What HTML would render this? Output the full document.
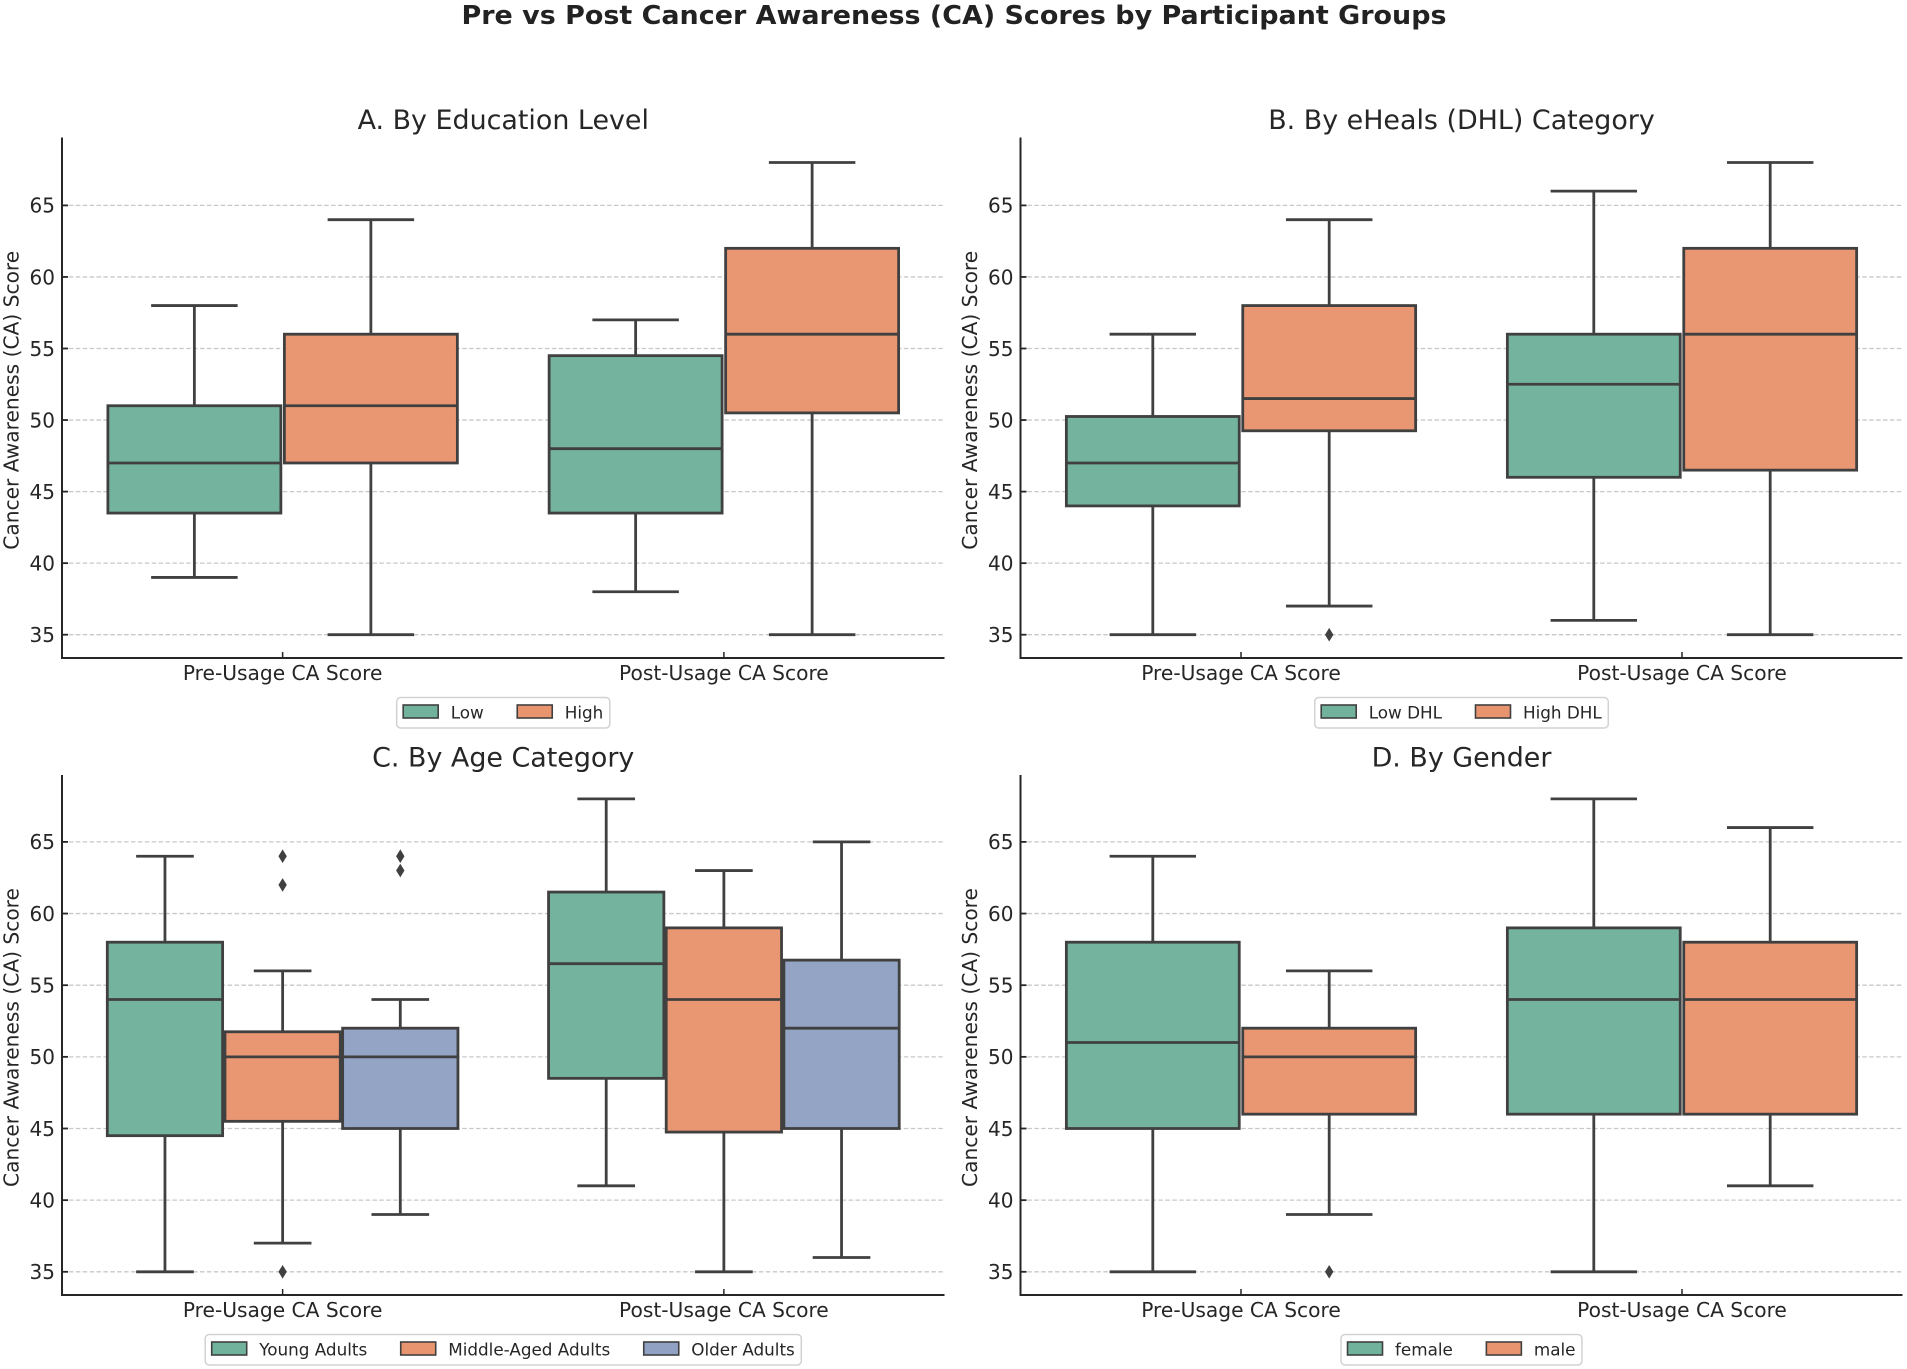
<!DOCTYPE html>
<html lang="en">
<head>
<meta charset="utf-8">
<title>Pre vs Post Cancer Awareness (CA) Scores by Participant Groups</title>
<style>
html,body{margin:0;padding:0;background:#fff;}
#chart-root{display:block;width:1907px;height:1369px;font-family:"DejaVu Sans","Liberation Sans",sans-serif;filter:blur(0.35px);}
</style>
</head>
<body>
<svg id="chart-root" xmlns="http://www.w3.org/2000/svg" width="1907" height="1369" viewBox="0 0 1907 1369">
  <rect x="0" y="0" width="1907" height="1369" fill="#ffffff"/>
  <text x="954" y="24" text-anchor="middle" font-size="26" font-weight="700" fill="#222222" textLength="985" lengthAdjust="spacingAndGlyphs">Pre vs Post Cancer Awareness (CA) Scores by Participant Groups</text>
</svg>
<script>
// Shared axis data
const categories = ['Pre-Usage CA Score', 'Post-Usage CA Score'];
const yTickLabels = [35, 40, 45, 50, 55, 60, 65];
const yAxisTitle = 'Cancer Awareness (CA) Score';

// Each box row: [whisker low, Q1, median, Q3, whisker high]
const panelATitle = 'A. By Education Level';
const panelASeries = ['Low', 'High'];
const panelAPre = [[39, 43.5, 47, 51, 58], [35, 47, 51, 56, 64]];
const panelAPost = [[38, 43.5, 48, 54.5, 57], [35, 50.5, 56, 62, 68]];
const panelAPreFliers = [[], []];
const panelAPostFliers = [[], []];

const panelBTitle = 'B. By eHeals (DHL) Category';
const panelBSeries = ['Low DHL', 'High DHL'];
const panelBPre = [[35, 44, 47, 50.25, 56], [37, 49.25, 51.5, 58, 64]];
const panelBPost = [[36, 46, 52.5, 56, 66], [35, 46.5, 56, 62, 68]];
const panelBPreFliers = [[], [35]];
const panelBPostFliers = [[], []];

const panelCTitle = 'C. By Age Category';
const panelCSeries = ['Young Adults', 'Middle-Aged Adults', 'Older Adults'];
const panelCPre = [[35, 44.5, 54, 58, 64], [37, 45.5, 50, 51.75, 56], [39, 45, 50, 52, 54]];
const panelCPost = [[41, 48.5, 56.5, 61.5, 68], [35, 44.75, 54, 59, 63], [36, 45, 52, 56.75, 65]];
const panelCPreFliers = [[], [35, 62, 64], [63, 64]];
const panelCPostFliers = [[], [], []];

const panelDTitle = 'D. By Gender';
const panelDSeries = ['female', 'male'];
const panelDPre = [[35, 45, 51, 58, 64], [39, 46, 50, 52, 56]];
const panelDPost = [[35, 46, 54, 59, 68], [41, 46, 54, 58, 66]];
const panelDPreFliers = [[], [35]];
const panelDPostFliers = [[], []];

// Drawing configuration
const seriesColors = ['#70b29c', '#e8946e', '#90a1c3'];
const STROKE = '#404040';
const SVG_NS = 'http://www.w3.org/2000/svg';
const root = document.getElementById('chart-root');

function make(tag, attrs, parent, text) {
  const el = document.createElementNS(SVG_NS, tag);
  for (const k in attrs) el.setAttribute(k, attrs[k]);
  if (text !== undefined) el.textContent = text;
  parent.appendChild(el);
  return el;
}
function slug(s) {
  return String(s).toLowerCase().replace(/[^a-z0-9]+/g, '-').replace(/^-|-$/g, '');
}

function drawPanel(id, frame, title, series, pre, post, preFliers, postFliers) {
  const L = frame.left, R = frame.right, T = frame.top, B = frame.bottom;
  // y axis function: value domain anchored on ticks 35 and 65
  const yScale = v => frame.y35 + (v - 35) * (frame.y65 - frame.y35) / 30;
  // x axis function: categorical domain -0.5..1.5
  const xScale = c => L + (c + 0.5) * (R - L) / 2;

  const g = make('g', {}, root);
  
  

  const titleEl = make('text', {x: (L + R) / 2, y: T - 8.5, 'text-anchor': 'middle', 'font-size': 26.9, fill: '#262626'}, g, title);
  
  

  // Horizontal grid
  yTickLabels.forEach(t => {
    const y = yScale(t);
    const grid = make('line', {x1: L, x2: R, y1: y, y2: y, stroke: '#c8c8c8', 'stroke-width': 1.3, 'stroke-dasharray': '4.5 2.4'}, g);
    
    
  });

  // Boxes
  const total = 0.8;
  const n = series.length;
  const slot = total / n;
  const rows = [pre, post];
  const fliers = [preFliers, postFliers];
  rows.forEach((row, c) => {
    row.forEach((stats, s) => {
      const center = c - total / 2 + slot * (s + 0.5);
      const cx = xScale(center);
      const halfW = (xScale(slot * 0.98) - xScale(0)) / 2;
      const capW = halfW / 2;
      const low = stats[0], q1 = stats[1], med = stats[2], q3 = stats[3], high = stats[4];
      const box = make('g', {}, g);
      
      
      const lw = 2.8;
      const lineAttrs = {stroke: STROKE, 'stroke-width': lw};
      make('line', Object.assign({x1: cx, x2: cx, y1: yScale(low), y2: yScale(q1)}, lineAttrs), box);
      make('line', Object.assign({x1: cx, x2: cx, y1: yScale(q3), y2: yScale(high)}, lineAttrs), box);
      make('line', Object.assign({x1: cx - capW, x2: cx + capW, y1: yScale(low), y2: yScale(low)}, lineAttrs), box);
      make('line', Object.assign({x1: cx - capW, x2: cx + capW, y1: yScale(high), y2: yScale(high)}, lineAttrs), box);
      make('rect', {x: cx - halfW, y: yScale(q3), width: halfW * 2, height: yScale(q1) - yScale(q3), fill: seriesColors[s], 'fill-opacity': 0.97, stroke: STROKE, 'stroke-width': lw}, box);
      make('line', Object.assign({x1: cx - halfW, x2: cx + halfW, y1: yScale(med), y2: yScale(med)}, lineAttrs), box);
      fliers[c][s].forEach(v => {
        const py = yScale(v);
        make('polygon', {points: [cx, py - 6.8, cx + 4.2, py, cx, py + 6.8, cx - 4.2, py].join(' '), fill: STROKE}, box);
      });
    });
  });

  // Spines
  const leftSpine = make('line', {x1: L, x2: L, y1: T, y2: B + 1, stroke: '#262626', 'stroke-width': 2}, g);
  
  
  const bottomSpine = make('line', {x1: L - 1, x2: R, y1: B, y2: B, stroke: '#262626', 'stroke-width': 2}, g);
  
  

  // Y ticks
  yTickLabels.forEach(t => {
    const y = yScale(t);
    const tick = make('line', {x1: L, x2: L + 6, y1: y, y2: y, stroke: '#262626', 'stroke-width': 1.8}, g);
    
    
    const lab = make('text', {x: L - 7, y: y + 7.3, 'text-anchor': 'end', 'font-size': 20, fill: '#262626'}, g, String(t));
    
    
  });

  // X ticks
  categories.forEach((name, c) => {
    const x = xScale(c);
    const tick = make('line', {x1: x, x2: x, y1: B, y2: B - 6, stroke: '#262626', 'stroke-width': 1.5}, g);
    
    
    const lab = make('text', {x: x, y: B + 22, 'text-anchor': 'middle', 'font-size': 20.2, fill: '#262626'}, g, name);
    
    
  });

  // Y axis title
  const yx = L - 43.5;
  const ycy = (T + B) / 2 + 2.5;
  const yTitle = make('text', {x: yx, y: ycy, 'text-anchor': 'middle', 'font-size': 20.2, fill: '#262626', transform: 'rotate(-90 ' + yx + ' ' + ycy + ')'}, g, yAxisTitle);
  
  

  // Legend
  const legend = make('g', {}, g);
  
  
  const legendTop = B + 39.5, legendH = 30.5;
  const frameEl = make('rect', {y: legendTop, height: legendH, rx: 4, ry: 4, fill: '#ffffff', stroke: '#d2d2d2', 'stroke-width': 1.5}, legend);
  
  
  const PAD = 6.5, HANDLE = 35, GAP = 12.5, COL = 33.5;
  const items = series.map((name, s) => {
    const swatch = make('rect', {y: legendTop + 7.5, width: HANDLE, height: 13, fill: seriesColors[s], stroke: STROKE, 'stroke-width': 1.6}, legend);
    
    
    const label = make('text', {y: legendTop + 21, 'font-size': 16.8, fill: '#262626'}, legend, name);
    
    
    return {swatch: swatch, label: label, w: label.getComputedTextLength()};
  });
  let width = PAD * 2;
  items.forEach((it, i) => { width += HANDLE + GAP + it.w + (i < items.length - 1 ? COL : 0); });
  const lx = (L + R) / 2 - width / 2;
  frameEl.setAttribute('x', lx);
  frameEl.setAttribute('width', width);
  let cursor = lx + PAD;
  items.forEach(it => {
    it.swatch.setAttribute('x', cursor);
    it.label.setAttribute('x', cursor + HANDLE + GAP);
    cursor += HANDLE + GAP + it.w + COL;
  });
}

const topFrame = {top: 137.5, bottom: 658, y35: 634.7, y65: 205.4};
const bottomFrame = {top: 775, bottom: 1295, y35: 1271.8, y65: 841.9};
const leftCol = {left: 62, right: 944.5};
const rightCol = {left: 1020.5, right: 1902.5};

drawPanel('a', Object.assign({}, topFrame, leftCol), panelATitle, panelASeries, panelAPre, panelAPost, panelAPreFliers, panelAPostFliers);
drawPanel('b', Object.assign({}, topFrame, rightCol), panelBTitle, panelBSeries, panelBPre, panelBPost, panelBPreFliers, panelBPostFliers);
drawPanel('c', Object.assign({}, bottomFrame, leftCol), panelCTitle, panelCSeries, panelCPre, panelCPost, panelCPreFliers, panelCPostFliers);
drawPanel('d', Object.assign({}, bottomFrame, rightCol), panelDTitle, panelDSeries, panelDPre, panelDPost, panelDPreFliers, panelDPostFliers);
</script>
</body>
</html>
